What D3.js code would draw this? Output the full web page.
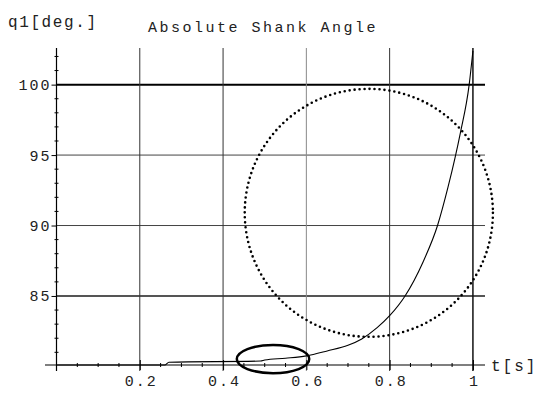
<!DOCTYPE html>
<html><head><meta charset="utf-8">
<script src="https://cdn.jsdelivr.net/npm/d3@7"></script>
<style>
body{margin:0;background:#fff;}
text{font-family:"Liberation Mono","DejaVu Sans Mono",monospace;fill:#222;}
</style></head>
<body><svg id="c" width="543" height="394"></svg>
<script>
// data
const tValues = [0, 0.26, 0.27, 0.49, 0.5, 0.55, 0.6, 0.65, 0.7, 0.733, 0.77, 0.8, 0.837, 0.88, 0.915, 0.94, 0.957, 0.97, 0.991, 1.0];
const q1Values = [80.1, 80.1, 80.3, 80.38, 80.45, 80.58, 80.75, 81.1, 81.5, 81.95, 82.75, 83.6, 85, 87.4, 90, 92.7, 94.8, 96.6, 100, 102.4];
const xTicks = [0.2, 0.4, 0.6, 0.8, 1];
const xTickLabels = ["0.2", "0.4", "0.6", "0.8", "1"];
const yTicks = [85, 90, 95, 100];
const yTickLabels = ["85", "90", "95", "100"];
// annotations (data units): center t, center q, radius t, radius q
const dottedCircle = [0.75, 90.9, 0.298, 8.8];
const solidEllipse = [0.52, 80.52, 0.087, 1.0];

const svg = d3.select("#c");
const x = d3.scaleLinear().domain([0, 1.029]).range([56.5, 485]);
const y = d3.scaleLinear().domain([80.1, 102.6]).range([365, 48]);

// horizontal grid
const hStyle = {85:["#555",2], 90:["#444",1], 95:["#444",1], 100:["#000",2]};
svg.append("g").selectAll("line").data(yTicks).join("line")
  .attr("x1", x(0)).attr("x2", x(1.029))
  .attr("y1", d=>y(d)).attr("y2", d=>y(d))
  .attr("stroke", d=>hStyle[d][0]).attr("stroke-width", d=>hStyle[d][1]);
// vertical grid
const vStyle = {0.2:["#333",1],0.4:["#333",1],0.6:["#888",1],0.8:["#333",1],1:["#111",1.5]};
svg.append("g").selectAll("line").data(xTicks).join("line")
  .attr("x1", d=>x(d)).attr("x2", d=>x(d))
  .attr("y1", y(102.6)).attr("y2", y(80.1)+6)
  .attr("stroke", d=>vStyle[d][0]).attr("stroke-width", d=>vStyle[d][1]);

// axes
const xAxis = d3.axisBottom(x).tickValues(xTicks).tickFormat((d,i)=>xTickLabels[i]).tickSize(5).tickSizeOuter(0);
const gx = svg.append("g").attr("transform",`translate(0,${y(80.1)})`).call(xAxis);
gx.select(".domain").remove();
gx.selectAll(".tick line").attr("y1",-5).attr("stroke","#000");
gx.selectAll(".tick text").attr("dy","0.85em").attr("dx",1).attr("font-size",15).attr("letter-spacing",2).attr("fill","#222");
svg.append("line").attr("x1",45).attr("x2",x(1.029)).attr("y1",y(80.1)).attr("y2",y(80.1)).attr("stroke","#000").attr("stroke-width",1.2);

const yAxis = d3.axisLeft(y).tickValues(yTicks).tickFormat((d,i)=>yTickLabels[i]).tickSize(5).tickSizeOuter(0);
const gy = svg.append("g").attr("transform",`translate(${x(0)},0)`).call(yAxis);
gy.select(".domain").remove();
gy.selectAll(".tick line").attr("stroke","#000");
gy.selectAll(".tick text").attr("x",-5).attr("font-size",15).attr("letter-spacing",2).attr("fill","#222").attr("dy","0.33em");
svg.append("line").attr("x1",x(0)).attr("x2",x(0)).attr("y1",y(102.6)).attr("y2",y(80.1)+6).attr("stroke","#000").attr("stroke-width",1.2);

// minor ticks
const yMinor = d3.range(81, 103, 1).filter(v=>v%5!==0);
svg.append("g").selectAll("line").data(yMinor).join("line")
  .attr("x1",x(0)-2).attr("x2",x(0)+2).attr("y1",d=>y(d)).attr("y2",d=>y(d)).attr("stroke","#000");
const xMinor = d3.range(0.05, 1.02, 0.05).filter(v=>Math.abs(v*5-Math.round(v*5))>0.01);
svg.append("g").selectAll("line").data(xMinor).join("line")
  .attr("x1",d=>x(d)).attr("x2",d=>x(d)).attr("y1",y(80.1)-2).attr("y2",y(80.1)+2).attr("stroke","#000");

// curve
const pts = tValues.map((t,i)=>[t,q1Values[i]]);
svg.append("path").datum(pts)
  .attr("d", d3.line().x(d=>x(d[0])).y(d=>y(d[1])).curve(d3.curveMonotoneX))
  .attr("fill","none").attr("stroke","#000").attr("stroke-width",1.1);

// dotted circle
svg.append("ellipse")
  .attr("cx", x(dottedCircle[0])).attr("cy", y(dottedCircle[1]))
  .attr("rx", x(dottedCircle[0]+dottedCircle[2])-x(dottedCircle[0]))
  .attr("ry", y(dottedCircle[1]-dottedCircle[3])-y(dottedCircle[1]))
  .attr("fill","none").attr("stroke","#000").attr("stroke-width",2.6)
  .attr("stroke-dasharray","0 5").attr("stroke-linecap","round");
// solid ellipse
svg.append("ellipse")
  .attr("cx", x(solidEllipse[0])).attr("cy", y(solidEllipse[1]))
  .attr("rx", x(solidEllipse[0]+solidEllipse[2])-x(solidEllipse[0]))
  .attr("ry", y(solidEllipse[1]-solidEllipse[3])-y(solidEllipse[1]))
  .attr("fill","none").attr("stroke","#000").attr("stroke-width",2.5);

// texts
svg.append("text").attr("x",8).attr("y",27).attr("font-size",16).attr("letter-spacing",1.6).text("q1[deg.]");
svg.append("text").attr("x",148).attr("y",32).attr("font-size",15).attr("letter-spacing",2.5).text("Absolute Shank Angle");
svg.append("text").attr("x",491).attr("y",y(80.1)+6).attr("font-size",16).attr("letter-spacing",2).text("t[s]");
</script></body></html>
